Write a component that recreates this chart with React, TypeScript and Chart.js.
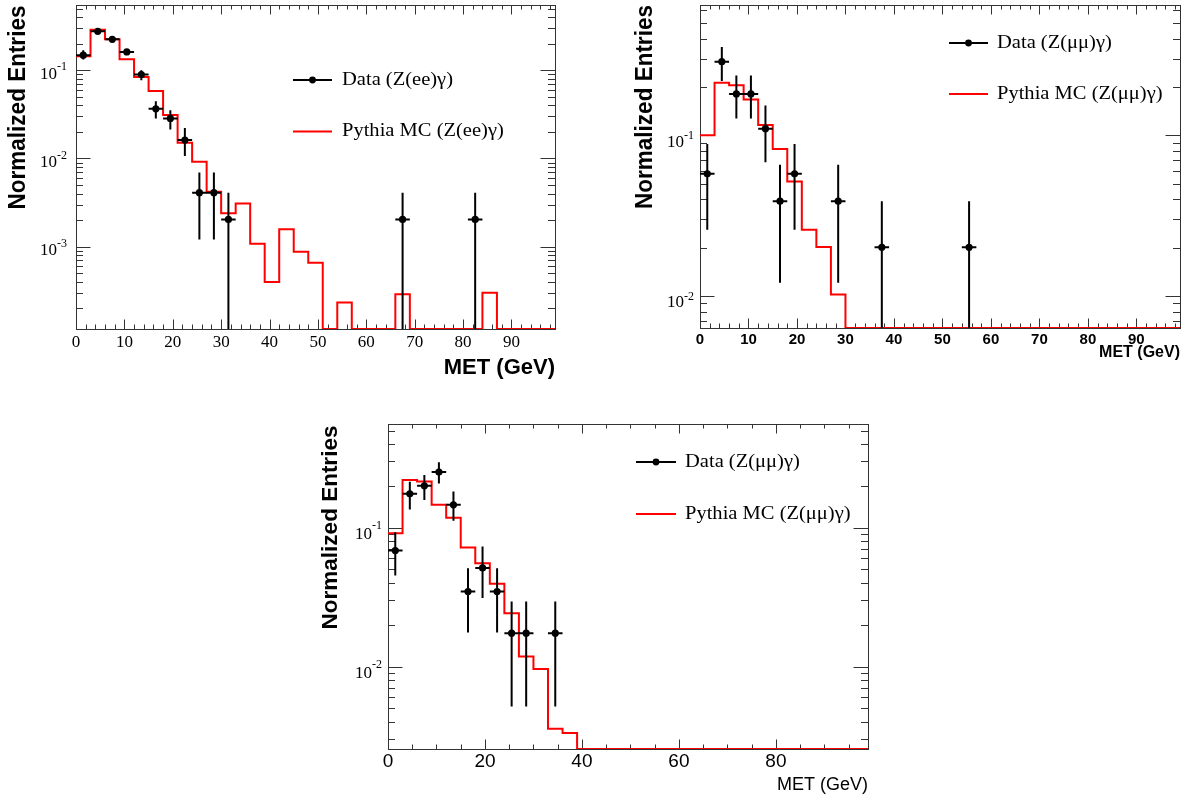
import React, { useEffect, useRef } from "react";
import { Chart, registerables } from "chart.js";
Chart.register(...registerables);

// ---- shared binning (33 bins of 3 GeV, 0..99) ----
const X_MIN = 0;
const X_MAX = 99;
const HALF_BIN = 1.5;
const binLowEdges = [0, 3, 6, 9, 12, 15, 18, 21, 24, 27, 30, 33, 36, 39, 42, 45, 48, 51, 54, 57, 60, 63, 66, 69, 72, 75, 78, 81, 84, 87, 90, 93, 96];

// ---- Panel A: Z(ee)gamma ----
const mcEE = [0.144, 0.288, 0.224, 0.133, 0.084, 0.058, 0.031, 0.0151, 0.0092, 0.0042, 0.0024, 0.0031, 0.00108, 0.0004, 0.00158, 0.00088, 0.00066, 0, 0.000234, 0, 0, 0, 0.00029, 0, 0, 0, 0, 0, 0.000302, 0, 0, 0, 0];
const dataEEX = [1.5, 4.5, 7.5, 10.5, 13.5, 16.5, 19.5, 22.5, 25.5, 28.5, 31.5, 67.5, 82.5];
const dataEEY = [0.148, 0.276, 0.224, 0.161, 0.0894, 0.0365, 0.0284, 0.0162, 0.0041, 0.0041, 0.00204, 0.00204, 0.00204];
const dataEEHi = [0.168, 0.296, 0.24, 0.173, 0.1, 0.0446, 0.0352, 0.0222, 0.00695, 0.00695, 0.0041, 0.0041, 0.0041];
const dataEELo = [0.132, 0.26, 0.209, 0.151, 0.077, 0.0284, 0.0213, 0.0107, 0.00121, 0.00121, 0, 0, 0];

// ---- Panel B: Z(mumu)gamma (top right) ----
const mcMM1 = [0.1, 0.212, 0.205, 0.167, 0.116, 0.0822, 0.0515, 0.0258, 0.0202, 0.0102, 0, 0, 0, 0, 0, 0, 0, 0, 0, 0, 0, 0, 0, 0, 0, 0, 0, 0, 0, 0, 0, 0, 0];
const dataMM1X = [1.5, 4.5, 7.5, 10.5, 13.5, 16.5, 19.5, 28.5, 37.5, 55.5];
const dataMM1Y = [0.0576, 0.287, 0.181, 0.181, 0.11, 0.0389, 0.0576, 0.0389, 0.0201, 0.0201];
const dataMM1Hi = [0.0883, 0.355, 0.236, 0.236, 0.153, 0.0655, 0.0883, 0.0655, 0.0389, 0.0389];
const dataMM1Lo = [0.0258, 0.218, 0.127, 0.127, 0.0679, 0.0121, 0.0258, 0.0121, 0, 0];

// ---- Panel C: Z(mumu)gamma (bottom) ----
const mcMM2 = [0.0911, 0.22, 0.215, 0.146, 0.118, 0.0718, 0.0554, 0.0394, 0.0242, 0.0118, 0.0096, 0.00356, 0.00332, 0, 0, 0, 0, 0, 0, 0, 0, 0, 0, 0, 0, 0, 0, 0, 0, 0, 0, 0, 0];
const dataMM2X = [1.5, 4.5, 7.5, 10.5, 13.5, 16.5, 19.5, 22.5, 25.5, 28.5, 34.5];
const dataMM2Y = [0.0684, 0.175, 0.2, 0.251, 0.146, 0.0347, 0.0513, 0.0347, 0.0174, 0.0174, 0.0174];
const dataMM2Hi = [0.0927, 0.214, 0.239, 0.295, 0.182, 0.0509, 0.073, 0.0509, 0.0294, 0.0294, 0.0294];
const dataMM2Lo = [0.0452, 0.135, 0.158, 0.208, 0.112, 0.0176, 0.0311, 0.0176, 0.00516, 0.00516, 0.00516];

const legendEE = ["Data (Z(ee)\u03b3)", "Pythia MC (Z(ee)\u03b3)"];
const legendMM = ["Data (Z(\u03bc\u03bc)\u03b3)", "Pythia MC (Z(\u03bc\u03bc)\u03b3)"];
const yTitleText = "Normalized Entries";
const xTitleText = "MET (GeV)";

const SERIF = '"Liberation Serif", "Times New Roman", serif';
const SANS = '"Liberation Sans", Arial, Helvetica, sans-serif';
const RED = "#ff0000";
const AXIS = "#333333";
const W = 1190;
const H = 800;

type PanelCfg = {
  frame: { left: number; top: number; right: number; bottom: number };
  yMin: number;
  yMax: number;
  mc: number[];
  dx: number[];
  dy: number[];
  dhi: number[];
  dlo: number[];
  xMajor: number;
  xMinor: number;
  xLabelFont: string;
  xLabelY: number;
  yBaseFont: string;
  ySupFont: string;
  yGap: number;
  yBaseDy: number;
  ySupDy: number;
  xTitle: { font: string; right: number; y: number; sx: number };
  yTitle: { font: string; cx: number; cy: number; sx: number };
  legend: { x0: number; x1: number; y1: number; y2: number; tx: number; font: string; sx: number; labels: string[] };
};

const panels: PanelCfg[] = [
  {
    frame: { left: 76, top: 5, right: 555, bottom: 329 },
    yMin: 1.17e-4,
    yMax: 0.548,
    mc: mcEE, dx: dataEEX, dy: dataEEY, dhi: dataEEHi, dlo: dataEELo,
    xMajor: 10, xMinor: 2,
    xLabelFont: `17px ${SERIF}`, xLabelY: 342.5,
    yBaseFont: `17px ${SERIF}`, ySupFont: `12px ${SERIF}`, yGap: 9, yBaseDy: 4, ySupDy: -3,
    xTitle: { font: `bold 22px ${SANS}`, right: 555, y: 368, sx: 1 },
    yTitle: { font: `bold 22.5px ${SANS}`, cx: 18, cy: 107.5, sx: 1.05 },
    legend: { x0: 293, x1: 332, y1: 80, y2: 131.5, tx: 342, font: `19px ${SERIF}`, sx: 1.08, labels: legendEE },
  },
  {
    frame: { left: 700, top: 5, right: 1180, bottom: 328 },
    yMin: 0.00632,
    yMax: 0.647,
    mc: mcMM1, dx: dataMM1X, dy: dataMM1Y, dhi: dataMM1Hi, dlo: dataMM1Lo,
    xMajor: 10, xMinor: 2,
    xLabelFont: `bold 15px ${SANS}`, xLabelY: 340,
    yBaseFont: `17px ${SERIF}`, ySupFont: `12px ${SERIF}`, yGap: 6, yBaseDy: 7, ySupDy: 1,
    xTitle: { font: `bold 16px ${SANS}`, right: 1180, y: 352.5, sx: 1 },
    yTitle: { font: `bold 22.5px ${SANS}`, cx: 645.5, cy: 107, sx: 1.1 },
    legend: { x0: 949, x1: 988, y1: 43, y2: 94, tx: 997, font: `19px ${SERIF}`, sx: 1.08, labels: legendMM },
  },
  {
    frame: { left: 388, top: 424, right: 868, bottom: 749 },
    yMin: 0.00255,
    yMax: 0.557,
    mc: mcMM2, dx: dataMM2X, dy: dataMM2Y, dhi: dataMM2Hi, dlo: dataMM2Lo,
    xMajor: 20, xMinor: 5,
    xLabelFont: `19px ${SANS}`, xLabelY: 762,
    yBaseFont: `17px ${SERIF}`, ySupFont: `12px ${SERIF}`, yGap: 6, yBaseDy: 6.5, ySupDy: -1.5,
    xTitle: { font: `18px ${SANS}`, right: 868, y: 785, sx: 1 },
    yTitle: { font: `bold 22.5px ${SANS}`, cx: 330.5, cy: 527.5, sx: 1.0 },
    legend: { x0: 636, x1: 676, y1: 462, y2: 514, tx: 685, font: `19px ${SERIF}`, sx: 1.08, labels: legendMM },
  },
];

function drawText(
  ctx: CanvasRenderingContext2D,
  text: string,
  x: number,
  y: number,
  font: string,
  align: CanvasTextAlign,
  sx = 1,
  rot = 0
) {
  ctx.save();
  ctx.translate(x, y);
  ctx.scale(sx, 1);
  ctx.rotate(rot);
  ctx.font = font;
  ctx.fillStyle = "#000";
  ctx.textAlign = align;
  ctx.textBaseline = "middle";
  ctx.fillText(text, 0, 0);
  ctx.restore();
}

function makePlugin(cfg: PanelCfg) {
  return {
    id: "rootFrame",
    beforeDatasetsDraw(chart: any) {
      const ctx: CanvasRenderingContext2D = chart.ctx;
      const a = chart.chartArea;
      const xs = chart.scales.x;
      const ys = chart.scales.y;
      ctx.save();
      ctx.strokeStyle = AXIS;
      ctx.lineWidth = 1;
      ctx.strokeRect(a.left + 0.5, a.top + 0.5, a.right - a.left, a.bottom - a.top);
      ctx.beginPath();
      for (let v = X_MIN; v <= X_MAX + 1e-9; v += cfg.xMinor) {
        const major = Math.abs(v / cfg.xMajor - Math.round(v / cfg.xMajor)) < 1e-6;
        const len = major ? 9.5 : 4.5;
        const px = Math.round(xs.getPixelForValue(v)) + 0.5;
        ctx.moveTo(px, a.bottom);
        ctx.lineTo(px, a.bottom - len);
        ctx.moveTo(px, a.top);
        ctx.lineTo(px, a.top + len);
      }
      const eLo = Math.floor(Math.log10(cfg.yMin));
      const eHi = Math.ceil(Math.log10(cfg.yMax));
      for (let e = eLo; e <= eHi; e++) {
        for (let m = 1; m <= 9; m++) {
          const v = m * Math.pow(10, e);
          if (v < cfg.yMin || v > cfg.yMax) continue;
          const len = m === 1 ? 14.5 : 7;
          const py = Math.round(ys.getPixelForValue(v)) + 0.5;
          ctx.moveTo(a.left, py);
          ctx.lineTo(a.left + len, py);
          ctx.moveTo(a.right, py);
          ctx.lineTo(a.right - len, py);
        }
      }
      ctx.stroke();
      ctx.restore();
    },
    afterDatasetsDraw(chart: any) {
      const ctx: CanvasRenderingContext2D = chart.ctx;
      const a = chart.chartArea;
      const xs = chart.scales.x;
      const ys = chart.scales.y;
      for (let v = X_MIN; v <= X_MAX + 1e-9; v += cfg.xMajor) {
        drawText(ctx, String(v), xs.getPixelForValue(v), cfg.xLabelY, cfg.xLabelFont, "center");
      }
      const eLo = Math.ceil(Math.log10(cfg.yMin));
      const eHi = Math.floor(Math.log10(cfg.yMax));
      for (let e = eLo; e <= eHi; e++) {
        const py = ys.getPixelForValue(Math.pow(10, e));
        ctx.save();
        ctx.font = cfg.ySupFont;
        const sup = String(e);
        const supW = ctx.measureText(sup).width;
        ctx.restore();
        const xr = a.left - cfg.yGap;
        drawText(ctx, sup, xr - supW, py + cfg.ySupDy, cfg.ySupFont, "left");
        drawText(ctx, "10", xr - supW, py + cfg.yBaseDy, cfg.yBaseFont, "right");
      }
      drawText(ctx, xTitleText, cfg.xTitle.right, cfg.xTitle.y, cfg.xTitle.font, "right", cfg.xTitle.sx);
      drawText(ctx, yTitleText, cfg.yTitle.cx, cfg.yTitle.cy, cfg.yTitle.font, "center", cfg.yTitle.sx, -Math.PI / 2);
      const L = cfg.legend;
      ctx.save();
      ctx.lineWidth = 2;
      ctx.strokeStyle = "#000";
      ctx.beginPath();
      ctx.moveTo(L.x0, L.y1);
      ctx.lineTo(L.x1, L.y1);
      ctx.stroke();
      ctx.fillStyle = "#000";
      ctx.beginPath();
      ctx.arc((L.x0 + L.x1) / 2, L.y1, 3.4, 0, Math.PI * 2);
      ctx.fill();
      ctx.strokeStyle = RED;
      ctx.beginPath();
      ctx.moveTo(L.x0, L.y2);
      ctx.lineTo(L.x1, L.y2);
      ctx.stroke();
      ctx.restore();
      drawText(ctx, L.labels[0], L.tx, L.y1, L.font, "left", L.sx);
      drawText(ctx, L.labels[1], L.tx, L.y2, L.font, "left", L.sx);
    },
  };
}

function buildConfig(cfg: PanelCfg): any {
  const mcPoints = binLowEdges.map((x, i) => ({ x, y: cfg.mc[i] > 0 ? cfg.mc[i] : cfg.yMin }));
  const lastVal = cfg.mc[cfg.mc.length - 1];
  mcPoints.push({ x: X_MAX, y: lastVal > 0 ? lastVal : cfg.yMin });

  const vBars: any[] = [];
  const hBars: any[] = [];
  const markers: any[] = [];
  cfg.dx.forEach((c, i) => {
    vBars.push({ x: c, y: cfg.dlo[i] > 0 ? cfg.dlo[i] : cfg.yMin });
    vBars.push({ x: c, y: cfg.dhi[i] });
    vBars.push({ x: c, y: null });
    hBars.push({ x: c - HALF_BIN, y: cfg.dy[i] });
    hBars.push({ x: c + HALF_BIN, y: cfg.dy[i] });
    hBars.push({ x: c + HALF_BIN, y: null });
    markers.push({ x: c, y: cfg.dy[i] });
  });

  const f = cfg.frame;
  return {
    type: "line",
    data: {
      datasets: [
        { label: "markers", data: markers, showLine: false, pointRadius: 3.6, pointBackgroundColor: "#000", pointBorderWidth: 0 },
        { label: "vErr", data: vBars, borderColor: "#000", borderWidth: 2, pointRadius: 0, spanGaps: false, tension: 0 },
        { label: "hErr", data: hBars, borderColor: "#000", borderWidth: 2, pointRadius: 0, spanGaps: false, tension: 0 },
        { label: "mc", data: mcPoints, borderColor: RED, borderWidth: 2, pointRadius: 0, stepped: true, fill: false },
      ],
    },
    options: {
      responsive: false,
      animation: false,
      events: [],
      layout: { padding: { left: f.left, top: f.top, right: W - f.right, bottom: H - f.bottom } },
      plugins: { legend: { display: false }, tooltip: { enabled: false } },
      scales: {
        x: { type: "linear", min: X_MIN, max: X_MAX, display: false },
        y: { type: "logarithmic", min: cfg.yMin, max: cfg.yMax, display: false },
      },
    },
    plugins: [makePlugin(cfg)],
  };
}

function Panel({ cfg }: { cfg: PanelCfg }) {
  const ref = useRef<HTMLCanvasElement | null>(null);
  useEffect(() => {
    if (!ref.current) return;
    const chart = new Chart(ref.current, buildConfig(cfg));
    return () => chart.destroy();
  }, [cfg]);
  return (
    <canvas
      ref={ref}
      width={W}
      height={H}
      style={{ position: "absolute", left: 0, top: 0, width: W, height: H }}
    />
  );
}

export default function App() {
  return (
    <div style={{ position: "absolute", left: 0, top: 0, width: W, height: H, background: "#fff" }}>
      {panels.map((p, i) => (
        <Panel key={i} cfg={p} />
      ))}
    </div>
  );
}
